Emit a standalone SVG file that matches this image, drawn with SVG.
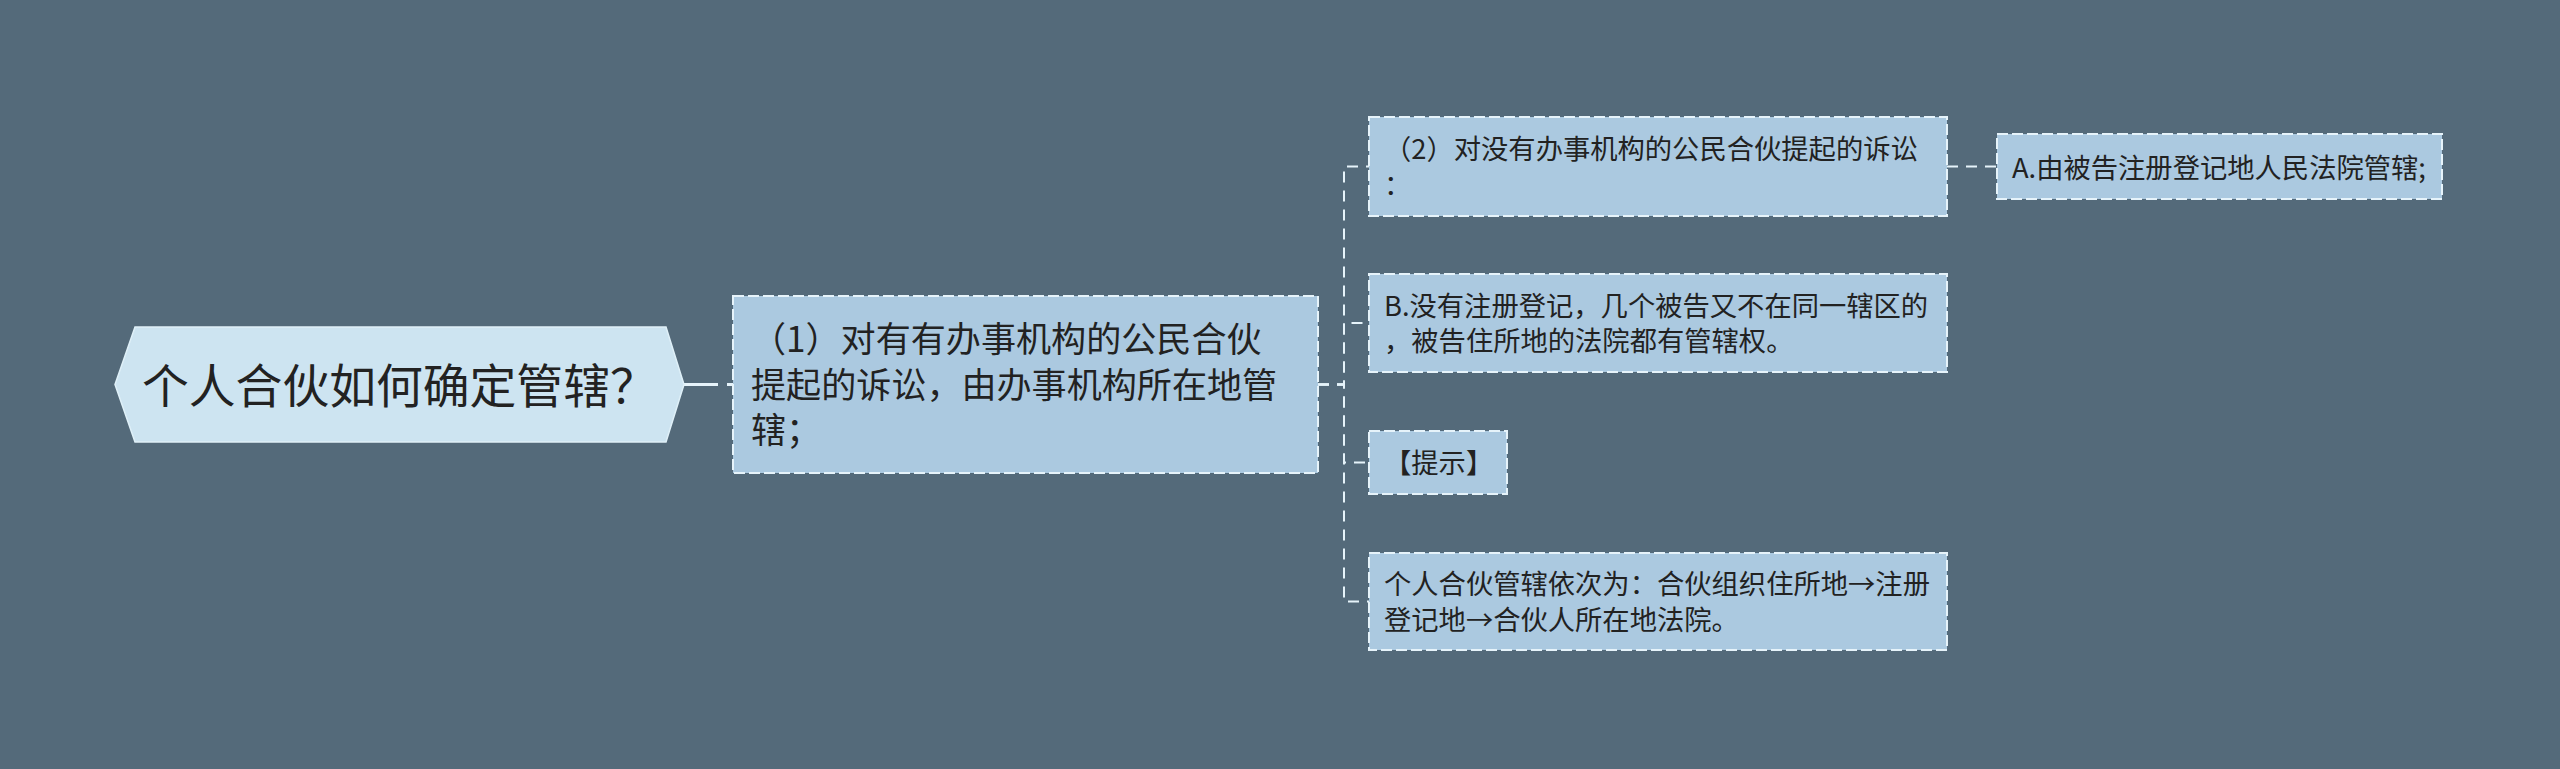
<svg xmlns="http://www.w3.org/2000/svg" width="2560" height="769" viewBox="0 0 2560 769">
<style>
.bg{fill:#546a7a}
.box{fill:#abc9e0;stroke:#e6f3fa;stroke-width:2;stroke-dasharray:11 4}
.root{fill:#cde4f1;stroke:#dff0f8;stroke-width:1.5}
.t{font-family:"Noto Sans CJK SC","Noto Sans",sans-serif;fill:#222}
.s{font-size:27.3px}
.m{font-size:35.1px}
.l{font-size:46.8px}
.c{fill:none;stroke:#e6f3fa;stroke-width:2;stroke-dasharray:11 8}
</style>
<rect class="bg" x="0" y="0" width="2560" height="769"/>
<g id="connectors">
<line x1="684" y1="384.5" x2="733" y2="384.5" fill="none" stroke="#e6f3fa" stroke-width="3" stroke-dasharray="34 9 10 10"/>
<path class="c" d="M1318,384.5 H1344 V166.5 H1369"/>
<path class="c" d="M1318,384.5 H1344 V323 H1369"/>
<path class="c" d="M1318,384.5 H1344 V462.5 H1369"/>
<path class="c" d="M1318,384.5 H1344 V601.5 H1369"/>
<path class="c" d="M1947,166.5 H1997"/>
</g>
<g id="root">
<polygon class="root" points="115,384.5 135,327 666,327 684,384.5 666,442 135,442"/>
<text class="t l" x="142" y="403">个人合伙如何确定管辖？</text>
</g>
<g id="n1">
<rect class="box" x="733" y="296" width="585" height="177"/>
<text class="t m" x="751" y="352">（1）对有有办事机构的公民合伙</text>
<text class="t m" x="751" y="397.5">提起的诉讼，由办事机构所在地管</text>
<text class="t m" x="751" y="443">辖；</text>
</g>
<g id="n2">
<rect class="box" x="1369" y="117" width="578" height="99"/>
<text class="t s" x="1384" y="159">（2）对没有办事机构的公民合伙提起的诉讼</text>
<text class="t s" x="1384" y="195">：</text>
</g>
<g id="nA">
<rect class="box" x="1997" y="134" width="445" height="65"/>
<text class="t s" x="2012" y="177.5">A.由被告注册登记地人民法院管辖;</text>
</g>
<g id="nB">
<rect class="box" x="1369" y="274" width="578" height="98"/>
<text class="t s" x="1384" y="315.5">B.没有注册登记，几个被告又不在同一辖区的</text>
<text class="t s" x="1384" y="351">，被告住所地的法院都有管辖权。</text>
</g>
<g id="nTip">
<rect class="box" x="1369" y="431" width="138" height="63"/>
<text class="t s" x="1384" y="473">【提示】</text>
</g>
<g id="nLast">
<rect class="box" x="1369" y="553" width="578" height="97"/>
<text class="t s" x="1384" y="594">个人合伙管辖依次为：合伙组织住所地→注册</text>
<text class="t s" x="1384" y="629.5">登记地→合伙人所在地法院。</text>
</g>
</svg>
